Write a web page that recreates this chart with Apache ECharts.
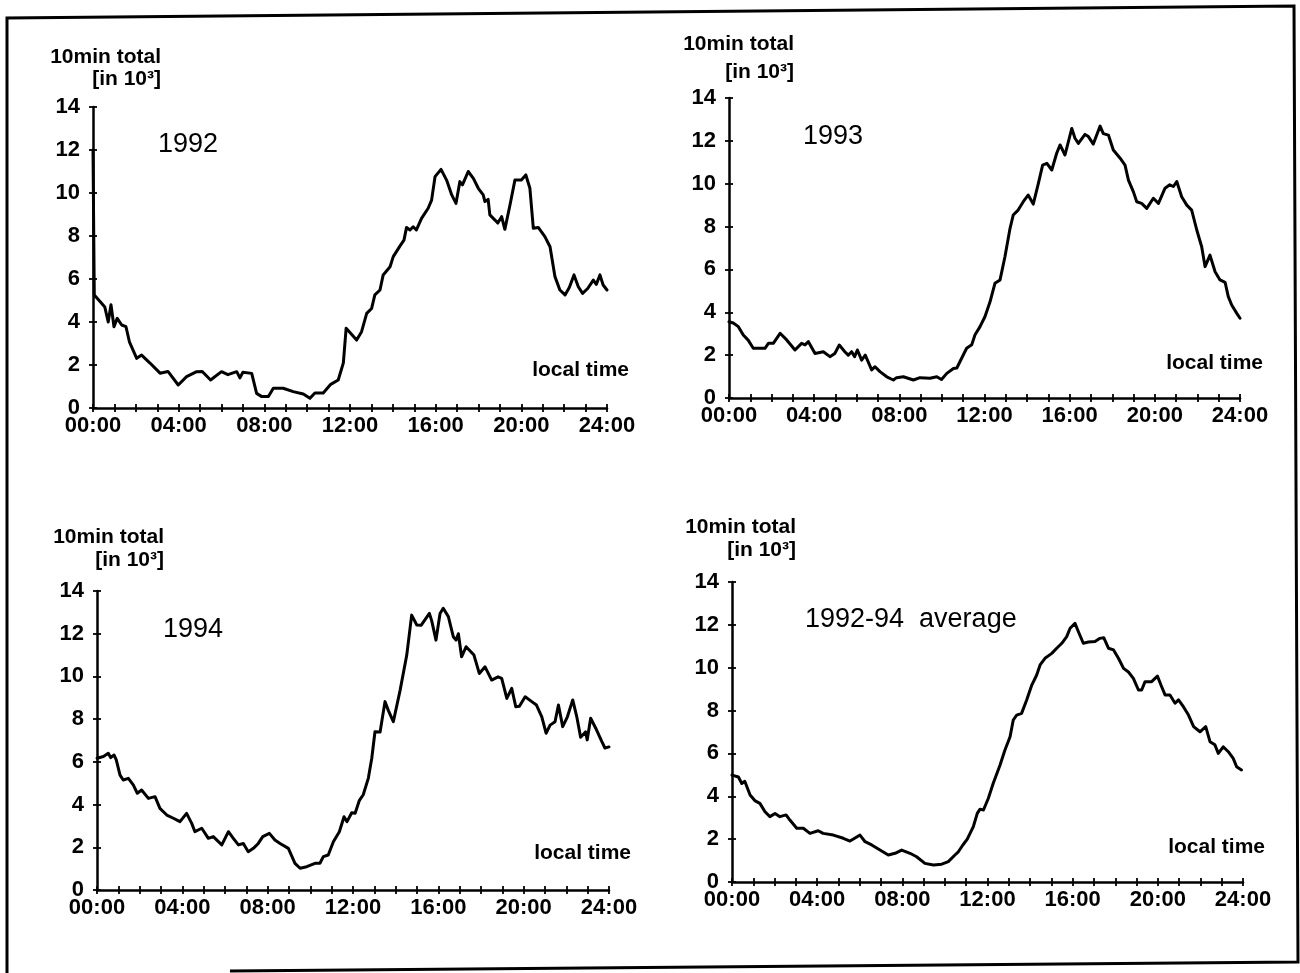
<!DOCTYPE html>
<html>
<head>
<meta charset="utf-8">
<script src="https://cdn.jsdelivr.net/npm/echarts@6/dist/echarts.min.js"></script>
<style>
  html, body { margin: 0; padding: 0; background: #fff; }
  #chart { width: 1300px; height: 973px; }
</style>
</head>
<body>
<div id="chart"></div>
<script>
// ---- data: [local time in hours, 10-min total in 10^3] ----
const d1992 = [[0,12.0],[0.06,5.26],[0.4,4.87],[0.55,4.7],[0.71,4.0],[0.84,4.8],[0.98,3.78],[1.13,4.17],[1.34,3.86],[1.54,3.78],[1.70,3.08],[2.04,2.31],[2.27,2.46],[2.66,2.09],[3.13,1.62],[3.5,1.70],[3.98,1.07],[4.37,1.46],[4.84,1.69],[5.1,1.7],[5.49,1.30],[6.0,1.69],[6.3,1.55],[6.71,1.69],[6.86,1.4],[7.0,1.66],[7.41,1.61],[7.64,0.68],[7.88,0.53],[8.19,0.53],[8.42,0.92],[8.88,0.92],[9.35,0.76],[9.82,0.65],[10.13,0.45],[10.36,0.7],[10.75,0.7],[11.1,1.1],[11.45,1.3],[11.69,2.1],[11.82,3.71],[12.31,3.16],[12.54,3.55],[12.78,4.40],[13.01,4.63],[13.16,5.26],[13.40,5.49],[13.55,6.19],[13.87,6.57],[14.02,7.04],[14.1,6.96],[14.33,7.53],[14.52,7.81],[14.64,8.40],[14.8,8.28],[14.95,8.43],[15.1,8.28],[15.34,8.82],[15.65,9.29],[15.81,9.67],[15.97,10.76],[16.25,11.10],[16.51,10.6],[16.75,9.91],[16.95,9.52],[17.13,10.53],[17.25,10.38],[17.52,11.0],[17.76,10.68],[17.99,10.22],[18.22,9.91],[18.3,9.6],[18.45,9.70],[18.53,8.98],[18.77,8.74],[18.9,8.6],[19.08,8.9],[19.23,8.31],[19.47,9.44],[19.70,10.6],[20.0,10.6],[20.21,10.84],[20.40,10.22],[20.56,8.36],[20.79,8.40],[21.10,7.97],[21.34,7.5],[21.57,6.11],[21.80,5.49],[22.04,5.26],[22.24,5.6],[22.46,6.19],[22.66,5.64],[22.86,5.33],[23.1,5.56],[23.36,5.95],[23.5,5.75],[23.67,6.19],[23.82,5.72],[24.0,5.49]];

const d1993 = [[0,3.56],[0.2,3.5],[0.44,3.33],[0.67,2.94],[0.9,2.7],[1.14,2.32],[1.69,2.32],[1.85,2.55],[2.08,2.55],[2.40,3.02],[2.71,2.71],[3.10,2.24],[3.41,2.55],[3.57,2.48],[3.73,2.63],[4.04,2.08],[4.43,2.16],[4.74,1.93],[4.97,2.08],[5.18,2.47],[5.44,2.16],[5.6,2.0],[5.76,2.16],[5.9,1.93],[6.03,2.24],[6.23,1.77],[6.4,2.0],[6.70,1.31],[6.86,1.46],[7.09,1.23],[7.41,0.99],[7.72,0.84],[7.87,0.95],[8.19,0.99],[8.66,0.84],[8.97,0.95],[9.44,0.92],[9.76,0.99],[9.98,0.86],[10.23,1.15],[10.54,1.38],[10.7,1.4],[10.95,1.9],[11.16,2.32],[11.4,2.48],[11.55,2.94],[11.79,3.33],[12.02,3.79],[12.26,4.49],[12.49,5.35],[12.73,5.51],[12.96,6.59],[13.20,7.92],[13.35,8.54],[13.58,8.77],[13.82,9.16],[14.05,9.47],[14.29,9.05],[14.53,10.02],[14.73,10.87],[14.93,10.95],[15.16,10.64],[15.39,11.42],[15.55,11.81],[15.78,11.34],[16.10,12.58],[16.25,12.12],[16.41,11.88],[16.72,12.30],[16.88,12.2],[17.11,11.85],[17.43,12.69],[17.58,12.34],[17.82,12.27],[18.05,11.57],[18.37,11.19],[18.60,10.87],[18.76,10.17],[18.99,9.63],[19.15,9.16],[19.38,9.08],[19.62,8.85],[19.93,9.32],[20.17,9.08],[20.48,9.79],[20.7,9.95],[20.87,9.87],[21.03,10.10],[21.26,9.39],[21.50,9.0],[21.73,8.77],[21.97,7.84],[22.20,7.06],[22.36,6.13],[22.59,6.67],[22.83,5.89],[23.06,5.51],[23.3,5.4],[23.45,4.73],[23.61,4.34],[23.85,3.95],[24.0,3.72]];

const d1994 = [[0,6.17],[0.3,6.25],[0.53,6.40],[0.64,6.2],[0.80,6.32],[0.9,6.1],[1.08,5.38],[1.23,5.15],[1.47,5.23],[1.70,4.92],[1.89,4.53],[2.09,4.68],[2.41,4.29],[2.72,4.37],[2.95,3.82],[3.27,3.51],[3.58,3.36],[3.89,3.20],[4.20,3.59],[4.44,3.12],[4.59,2.73],[4.91,2.89],[5.22,2.42],[5.45,2.5],[5.85,2.11],[6.16,2.73],[6.39,2.42],[6.63,2.11],[6.86,2.18],[7.09,1.79],[7.33,1.95],[7.56,2.18],[7.77,2.50],[8.08,2.65],[8.34,2.34],[8.58,2.18],[8.97,1.95],[9.28,1.25],[9.52,1.02],[9.83,1.09],[10.22,1.25],[10.45,1.25],[10.61,1.56],[10.84,1.64],[11.08,2.26],[11.36,2.73],[11.58,3.43],[11.72,3.2],[11.94,3.62],[12.1,3.59],[12.3,4.2],[12.48,4.46],[12.72,5.24],[12.88,6.17],[13.03,7.41],[13.27,7.4],[13.50,8.82],[13.66,8.4],[13.89,7.88],[14.21,9.36],[14.52,11.0],[14.75,12.87],[14.99,12.41],[15.2,12.4],[15.58,12.95],[15.69,12.6],[15.89,11.70],[16.08,12.95],[16.23,13.19],[16.47,12.80],[16.70,11.86],[16.83,11.7],[16.94,12.0],[17.09,10.92],[17.30,11.39],[17.67,11.0],[17.92,10.14],[18.19,10.45],[18.50,9.83],[18.8,9.98],[18.97,9.91],[19.21,8.97],[19.44,9.44],[19.63,8.58],[19.8,8.6],[20.07,9.05],[20.38,8.82],[20.6,8.66],[20.85,8.11],[21.05,7.34],[21.24,7.72],[21.47,7.88],[21.63,8.66],[21.83,7.65],[22.05,8.11],[22.30,8.90],[22.49,8.11],[22.67,7.15],[22.9,7.4],[22.98,7.03],[23.14,8.04],[23.42,7.49],[23.66,6.96],[23.81,6.65],[24,6.70]];

const dAvg = [[0,4.99],[0.3,4.9],[0.46,4.6],[0.6,4.7],[0.85,4.06],[1.07,3.8],[1.31,3.67],[1.55,3.28],[1.78,3.05],[2.02,3.20],[2.25,3.05],[2.54,3.13],[2.72,2.89],[3.04,2.51],[3.35,2.51],[3.66,2.27],[4.05,2.39],[4.28,2.27],[4.76,2.19],[5.23,2.04],[5.54,1.91],[5.76,2.04],[6.01,2.19],[6.25,1.88],[6.56,1.73],[6.95,1.49],[7.34,1.26],[7.66,1.34],[7.97,1.49],[8.36,1.34],[8.67,1.18],[9.06,0.87],[9.46,0.79],[9.85,0.83],[10.16,0.95],[10.47,1.26],[10.63,1.41],[10.86,1.75],[11.05,2.0],[11.34,2.6],[11.52,3.2],[11.65,3.4],[11.81,3.36],[12.04,3.91],[12.27,4.61],[12.59,5.46],[12.82,6.16],[13.06,6.78],[13.21,7.56],[13.37,7.79],[13.6,7.87],[13.84,8.49],[14.08,9.19],[14.31,9.66],[14.47,10.13],[14.70,10.44],[15.02,10.67],[15.25,10.91],[15.49,11.14],[15.72,11.45],[15.88,11.84],[16.11,12.07],[16.27,11.68],[16.50,11.14],[16.74,11.2],[17.05,11.22],[17.28,11.37],[17.46,11.4],[17.68,10.91],[17.92,10.83],[18.15,10.44],[18.39,9.97],[18.62,9.8],[18.85,9.5],[19.09,8.96],[19.24,8.96],[19.40,9.35],[19.71,9.35],[19.98,9.61],[20.18,9.11],[20.34,8.73],[20.57,8.73],[20.81,8.34],[20.97,8.5],[21.2,8.18],[21.44,7.79],[21.68,7.25],[21.98,7.01],[22.25,7.25],[22.45,6.55],[22.68,6.4],[22.84,6.0],[23.07,6.31],[23.31,6.08],[23.54,5.77],[23.70,5.38],[23.93,5.23]];

const panelTitles = ['1992', '1993', '1994', '1992-94  average'];
const yAxisName1 = '10min total';
const yAxisName2 = '[in 10\u00B3]';
const xAxisName = 'local time';
const xTickLabels = ['00:00', '04:00', '08:00', '12:00', '16:00', '20:00', '24:00'];
const yMin = 0, yMax = 14, yStep = 2;
const xMin = 0, xMax = 24;

// ---- layout ----
const FONT = '"Liberation Sans", Arial, Helvetica, sans-serif';
const panels = [
  { data: d1992, grid: { left: 93,  top: 107, width: 514, height: 301 }, title: [158, 145], name: [161, 57, 79], local: [629, 370] },
  { data: d1993, grid: { left: 729, top: 98,  width: 511, height: 300 }, title: [803, 137], name: [794, 44, 72], local: [1263, 363] },
  { data: d1994, grid: { left: 97,  top: 591, width: 512, height: 299 }, title: [163, 630], name: [164, 537, 560], local: [631, 853] },
  { data: dAvg,  grid: { left: 732, top: 582, width: 511, height: 300 }, title: [805, 620], name: [796, 527, 550], local: [1265, 847] }
];

const grids = [], xAxes = [], yAxes = [], series = [], graphics = [];
const labelStyle = { color: '#000', fontSize: 22, fontWeight: 'bold', fontFamily: FONT };

panels.forEach((p, i) => {
  grids.push(Object.assign({ containLabel: false }, p.grid));
  const xBase = {
    type: 'value', gridIndex: i, position: 'bottom', min: xMin, max: xMax, interval: 1,
    splitLine: { show: false },
    axisLine: { show: true, onZero: false, lineStyle: { color: '#000', width: 2.5 } },
    axisTick: { show: true, length: 4, lineStyle: { color: '#000', width: 1.8 } }
  };
  xAxes.push(Object.assign({}, xBase, {
    axisLabel: Object.assign({}, labelStyle, {
      margin: 7, showMinLabel: true, showMaxLabel: true,
      formatter: v => (v % 4 === 0 ? xTickLabels[v / 4] : '')
    })
  }));
  xAxes.push(Object.assign({}, xBase, {
    axisLine: { show: false },
    axisLabel: { show: false },
    axisTick: { show: true, inside: true, length: 4, lineStyle: { color: '#000', width: 1.8 } }
  }));
  const yBase = {
    type: 'value', gridIndex: i, position: 'left', min: yMin, max: yMax, interval: yStep,
    splitLine: { show: false },
    axisLine: { show: true, onZero: false, lineStyle: { color: '#000', width: 2.5 } },
    axisTick: { show: true, length: 4, lineStyle: { color: '#000', width: 1.8 } }
  };
  yAxes.push(Object.assign({}, yBase, {
    axisLabel: Object.assign({}, labelStyle, { margin: 13, showMinLabel: true, showMaxLabel: true })
  }));
  yAxes.push(Object.assign({}, yBase, {
    axisLine: { show: false },
    axisLabel: { show: false },
    axisTick: { show: true, inside: true, length: 4, lineStyle: { color: '#000', width: 1.8 } }
  }));
  series.push({
    type: 'line', xAxisIndex: 2 * i, yAxisIndex: 2 * i, data: p.data,
    showSymbol: false, smooth: false, silent: true, animation: false,
    lineStyle: { color: '#000', width: 3, join: 'round', cap: 'round' }
  });
  graphics.push(
    { type: 'text', x: p.name[0], y: p.name[1], style: { text: yAxisName1, font: 'bold 21px ' + FONT, fill: '#000', align: 'right', verticalAlign: 'middle' } },
    { type: 'text', x: p.name[0], y: p.name[2], style: { text: yAxisName2, font: 'bold 21px ' + FONT, fill: '#000', align: 'right', verticalAlign: 'middle' } },
    { type: 'text', x: p.title[0], y: p.title[1], style: { text: panelTitles[i], font: '27px ' + FONT, fill: '#000', align: 'left', verticalAlign: 'middle' } },
    { type: 'text', x: p.local[0], y: p.local[1], style: { text: xAxisName, font: 'bold 21px ' + FONT, fill: '#000', align: 'right', verticalAlign: 'middle' } }
  );
});

// outer frame of the figure
graphics.push(
  { type: 'polyline', shape: { points: [[7, 973], [7, 18], [1294, 6], [1298, 962], [230, 971]] }, style: { stroke: '#000', lineWidth: 3, fill: null } }
);

const chart = echarts.init(document.getElementById('chart'), null, { renderer: 'canvas' });
chart.setOption({
  backgroundColor: '#fff',
  animation: false,
  grid: grids,
  xAxis: xAxes,
  yAxis: yAxes,
  series: series,
  graphic: graphics
});
</script>
</body>
</html>
